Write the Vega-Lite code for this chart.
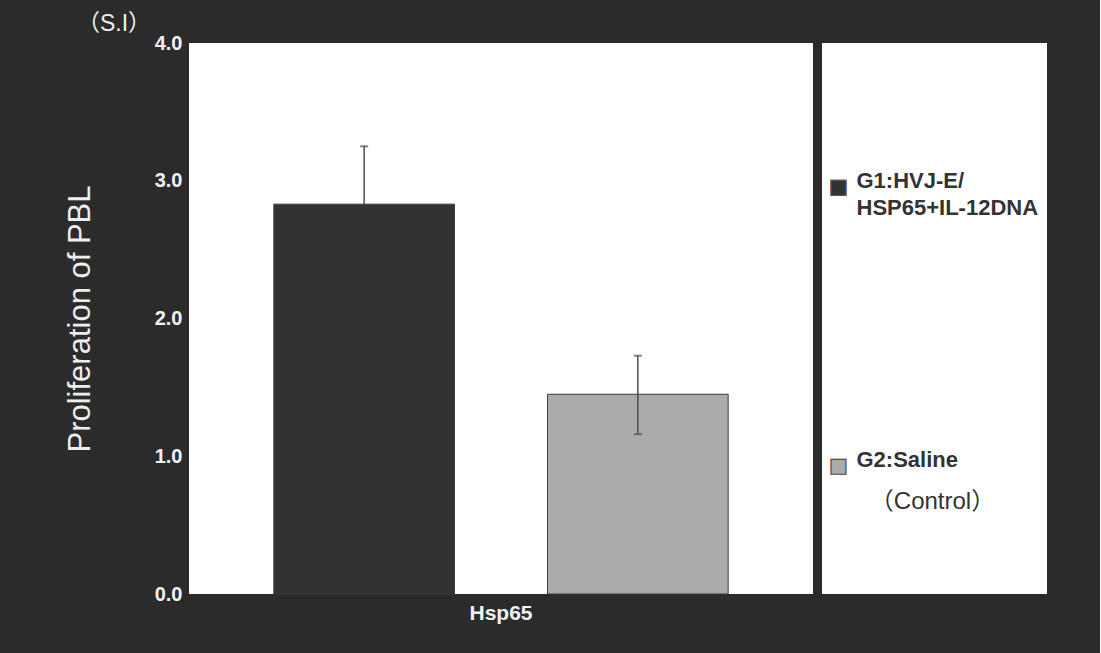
{
  "$schema": "https://vega.github.io/schema/vega-lite/v6.json",
  "background": "#2b2b2b",
  "padding": {"left": 64, "top": 13, "right": 53, "bottom": 34},
  "datasets": {
    "bars": [
      {"antigen": "Hsp65", "group": "G1", "si": 2.83, "lo": null, "hi": 3.25},
      {"antigen": "Hsp65", "group": "G2", "si": 1.45, "lo": 1.16, "hi": 1.73}
    ],
    "legend": [
      {"group": "G1", "line1": "G1:HVJ-E/", "line2": "HSP65+IL-12DNA", "note": ""},
      {"group": "G2", "line1": "G2:Saline", "line2": "", "note": "（Control）"}
    ]
  },
  "spacing": 9,
  "hconcat": [
    {
      "width": 624,
      "height": 551,
      "title": {
        "text": "（S.I）",
        "anchor": "start",
        "frame": "group",
        "dx": -112,
        "offset": -3,
        "font": "Liberation Sans, Noto Sans CJK JP",
        "fontSize": 23,
        "fontWeight": "normal",
        "color": "#eeeeee"
      },
      "view": {"fill": "white", "stroke": null},
      "data": {"name": "bars"},
      "encoding": {
        "x": {
          "field": "antigen",
          "type": "nominal",
          "scale": {"paddingInner": 0, "paddingOuter": 0},
          "axis": {
            "title": null,
            "labelAngle": 0,
            "labelFont": "Liberation Sans",
            "labelFontWeight": "bold",
            "labelFontSize": 21,
            "labelColor": "#f2f2f2",
            "labelPadding": 8,
            "ticks": false,
            "domain": false,
            "grid": false
          }
        },
        "xOffset": {
          "field": "group",
          "type": "nominal",
          "scale": {"paddingInner": 0.34, "paddingOuter": 0.31}
        }
      },
      "layer": [
        {
          "mark": {"type": "bar", "stroke": "#3a3a3a", "strokeWidth": 1},
          "encoding": {
            "y": {
              "field": "si",
              "type": "quantitative",
              "scale": {"domain": [0, 4], "nice": false},
              "axis": {
                "values": [0, 1, 2, 3, 4],
                "format": ".1f",
                "labelFont": "Liberation Sans",
                "labelFontWeight": "bold",
                "labelFontSize": 20,
                "labelColor": "#f2f2f2",
                "labelPadding": 7,
                "ticks": false,
                "domain": false,
                "grid": false,
                "title": "Proliferation of PBL",
                "titleFont": "Liberation Sans",
                "titleFontWeight": "normal",
                "titleFontSize": 31,
                "titleColor": "#eeeeee",
                "titlePadding": 58
              }
            },
            "fill": {
              "field": "group",
              "type": "nominal",
              "scale": {"domain": ["G1", "G2"], "range": ["#323232", "#ababab"]},
              "legend": null
            }
          }
        },
        {
          "mark": {"type": "rule", "color": "#4d4d4d", "strokeWidth": 1.5},
          "encoding": {
            "y": {"field": "si", "type": "quantitative"},
            "y2": {"field": "hi"}
          }
        },
        {
          "mark": {"type": "rule", "color": "#4d4d4d", "strokeWidth": 1.5},
          "encoding": {
            "y": {"field": "lo", "type": "quantitative"},
            "y2": {"field": "si"}
          }
        },
        {
          "mark": {"type": "tick", "color": "#4d4d4d", "size": 8, "thickness": 2, "orient": "horizontal"},
          "encoding": {
            "y": {"field": "hi", "type": "quantitative"}
          }
        },
        {
          "mark": {"type": "tick", "color": "#4d4d4d", "size": 8, "thickness": 2, "orient": "horizontal"},
          "encoding": {
            "y": {"field": "lo", "type": "quantitative"}
          }
        }
      ]
    },
    {
      "width": 225,
      "height": 551,
      "view": {"fill": "white", "stroke": null},
      "data": {"name": "legend"},
      "encoding": {
        "y": {
          "field": "group",
          "type": "nominal",
          "scale": {"type": "point", "padding": 0.4875, "align": 0.526},
          "axis": null
        }
      },
      "layer": [
        {
          "mark": {"type": "text", "align": "center", "baseline": "middle", "dx": -96, "dy": 1, "font": "DejaVu Sans", "fontSize": 21},
          "encoding": {
            "text": {"value": "■"},
            "fill": {"field": "group", "type": "nominal", "legend": null}
          }
        },
        {
          "mark": {"type": "text", "align": "center", "baseline": "middle", "dx": -96, "dy": 1, "font": "DejaVu Sans", "fontSize": 21, "color": "#555555"},
          "encoding": {
            "text": {"value": "□"}
          }
        },
        {
          "mark": {
            "type": "text",
            "align": "left",
            "baseline": "middle",
            "dx": -78,
            "dy": -5,
            "font": "Liberation Sans",
            "fontSize": 22,
            "fontWeight": "bold",
            "color": "#333333"
          },
          "encoding": {"text": {"field": "line1"}}
        },
        {
          "mark": {
            "type": "text",
            "align": "left",
            "baseline": "middle",
            "dx": -78,
            "dy": 22,
            "font": "Liberation Sans",
            "fontSize": 22,
            "fontWeight": "bold",
            "color": "#333333"
          },
          "encoding": {"text": {"field": "line2"}}
        },
        {
          "mark": {
            "type": "text",
            "align": "center",
            "baseline": "middle",
            "dx": -2,
            "dy": 37,
            "font": "Liberation Sans, Noto Sans CJK JP",
            "fontSize": 24,
            "fontWeight": "normal",
            "color": "#333333"
          },
          "encoding": {"text": {"field": "note"}}
        }
      ]
    }
  ],
  "config": {"view": {"stroke": null}}
}
